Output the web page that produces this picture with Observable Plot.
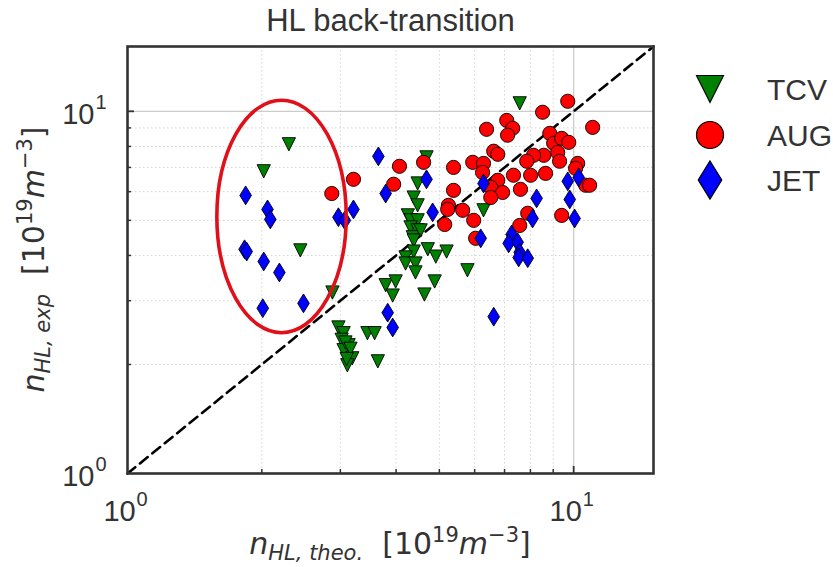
<!DOCTYPE html>
<html><head><meta charset="utf-8">
<script src="https://cdn.jsdelivr.net/npm/d3@7"></script>
<script src="https://cdn.jsdelivr.net/npm/@observablehq/plot@0.6"></script>
<style>body{margin:0;background:#fff;} #chart svg{display:block;}</style>
</head><body><div id="chart"></div>
<script>
// ---- data ----
const seriesNames = ["TCV", "AUG", "JET"];
const seriesColors = ["#008000", "#ff0000", "#0000ff"];

const tcvX = [2.30, 2.02, 2.44, 2.88, 4.68, 4.47, 4.38, 4.47, 4.25, 4.31, 4.47, 4.31, 4.47, 4.36, 4.54,
  4.38, 4.38, 4.71, 4.91, 5.19, 4.20, 4.20, 4.42, 4.42, 3.79, 3.99, 3.93, 4.88, 4.63, 5.78,
  7.57, 6.28, 2.97, 3.05, 3.02, 3.13, 3.05, 3.19, 3.11, 3.45, 3.58, 3.64, 3.08, 3.16, 3.10];
const tcvY = [8.11, 6.83, 4.13, 3.16, 7.46, 6.32, 5.78, 5.50, 5.16, 5.00, 5.00, 4.78, 4.69, 4.49, 4.69,
  4.40, 4.10, 4.16, 3.97, 4.10, 3.95, 3.80, 3.80, 3.59, 3.31, 3.39, 3.10, 3.39, 3.12, 3.64,
  10.52, 5.33, 2.53, 2.44, 2.34, 2.26, 2.19, 2.08, 1.99, 2.44, 2.44, 2.04, 2.30, 2.21, 2.07];

const augX = [2.87, 3.21, 4.07, 4.61, 5.38, 5.94, 3.95, 5.38, 5.24, 5.22, 5.14, 5.64, 5.97, 6.03,
  9.70, 8.52, 11.03, 6.38, 7.08, 7.30, 7.11, 8.84, 9.02, 9.40, 9.75, 9.21, 9.30, 8.57, 8.13, 7.85,
  8.65, 8.01, 7.33, 7.60, 10.21, 10.10, 10.64, 10.86, 9.40, 6.62, 6.76, 6.28, 6.25, 6.76, 6.52,
  6.93, 6.52, 7.89, 7.57];
const augY = [5.93, 6.49, 7.05, 7.23, 7.00, 7.23, 6.29, 6.05, 5.50, 5.36, 4.87, 5.33, 5.00, 4.46,
  10.66, 9.94, 9.03, 8.92, 9.44, 8.98, 8.59, 8.69, 8.16, 8.42, 8.21, 7.70, 7.28, 7.56, 7.56, 7.28,
  6.74, 6.66, 6.66, 6.09, 7.18, 6.96, 6.25, 6.25, 5.16, 7.76, 7.61, 7.18, 6.78, 6.45, 6.17,
  5.97, 5.78, 5.23, 4.84];

const jetX = [1.84, 2.06, 2.09, 1.83, 1.85, 2.02, 2.19, 2.01, 2.48, 2.97, 3.07, 3.21, 3.65, 3.79,
  4.68, 4.83, 6.28, 8.26, 8.09, 6.19, 7.26, 7.15, 7.49, 7.57, 7.53, 7.89, 6.62, 9.70, 10.26,
  9.80, 10.05, 3.83, 3.93];
const jetY = [5.86, 5.36, 5.03, 4.16, 4.10, 3.85, 3.59, 2.86, 2.95, 5.10, 5.00, 5.36, 7.51, 5.93,
  6.49, 5.26, 6.32, 5.75, 5.06, 4.46, 4.57, 4.32, 4.35, 4.08, 3.95, 3.93, 2.71, 6.41, 6.57,
  5.71, 5.06, 2.78, 2.53];

const axisDomain = [1, 15.1];
const majorTicks = [1, 10];
const tickExponents = ["0", "1"];
const minorTicks = [2, 3, 4, 5, 6, 7, 8, 9];
const gridMajor = [10];
const titleText = "HL back-transition";
// highlighted region (data bounds of the red ellipse)
const ellipseXRange = [1.59, 3.10];
const ellipseYRange = [2.44, 10.7];

// ---- symbols ----
const triDown = { draw(ctx, size) { const h = Math.sqrt(2 * size);
  ctx.moveTo(-h / 2, -h / 2); ctx.lineTo(h / 2, -h / 2); ctx.lineTo(0, h / 2); ctx.closePath(); } };
const thinDiamond = { draw(ctx, size) { const h = Math.sqrt(size / 0.31), w = 0.62 * h;
  ctx.moveTo(0, -h / 2); ctx.lineTo(w / 2, 0); ctx.lineTo(0, h / 2); ctx.lineTo(-w / 2, 0); ctx.closePath(); } };
const circleSym = d3.symbolCircle;
const symbols = [triDown, circleSym, thinDiamond];

const tcv = tcvX.map((x, i) => ({x, y: tcvY[i]}));
const aug = augX.map((x, i) => ({x, y: augY[i]}));
const jet = jetX.map((x, i) => ({x, y: jetY[i]}));

const W = 833, H = 567, mL = 127, mR = 180, mT = 46, mB = 94;
const fw = W - mL - mR, fh = H - mT - mB;
const txt = "#333333";

const chart = Plot.plot({
  width: W, height: H, marginLeft: mL, marginRight: mR, marginTop: mT, marginBottom: mB,
  style: {fontFamily: "'Liberation Sans', Arial, sans-serif", background: "#fff", color: txt},
  x: {type: "log", domain: axisDomain, axis: null},
  y: {type: "log", domain: axisDomain, axis: null},
  marks: [
    Plot.ruleX(minorTicks, {x: d => d, stroke: "#d4d4d4", strokeWidth: 1, strokeDasharray: "1.5,2.5"}),
    Plot.ruleY(minorTicks, {y: d => d, stroke: "#d4d4d4", strokeWidth: 1, strokeDasharray: "1.5,2.5"}),
    Plot.ruleX(gridMajor, {x: d => d, stroke: "#cccccc", strokeWidth: 1.3}),
    Plot.ruleY(gridMajor, {y: d => d, stroke: "#cccccc", strokeWidth: 1.3}),
    Plot.line([axisDomain[0], axisDomain[1]], {x: d => d, y: d => d, stroke: "#000", strokeWidth: 2.6, strokeDasharray: "10,6"}),
    Plot.dot(tcv, {x: "x", y: "y", symbol: triDown, r: 5.3, fill: seriesColors[0], stroke: "#000", strokeWidth: 0.9}),
    Plot.dot(aug, {x: "x", y: "y", symbol: "circle", r: 7.1, fill: seriesColors[1], stroke: "#000", strokeWidth: 0.9}),
    Plot.dot(jet, {x: "x", y: "y", symbol: thinDiamond, r: 5.9, fill: seriesColors[2], stroke: "#000", strokeWidth: 0.9}),
    // inward tick marks
    Plot.ruleX(minorTicks, {x: d => d, insetTop: fh - 4, stroke: txt, strokeWidth: 1.5}),
    Plot.ruleX(gridMajor, {x: d => d, insetTop: fh - 7, stroke: txt, strokeWidth: 1.8}),
    Plot.ruleY(minorTicks, {y: d => d, insetRight: fw - 4, stroke: txt, strokeWidth: 1.5}),
    Plot.ruleY(gridMajor, {y: d => d, insetRight: fw - 7, stroke: txt, strokeWidth: 1.8}),
    Plot.frame({stroke: txt, strokeWidth: 2.6}),
    // tick labels
    Plot.text(majorTicks, {x: d => d, text: () => "10", frameAnchor: "bottom", lineAnchor: "middle", dy: 38, dx: -8, fontSize: 29, fill: txt}),
    Plot.text(majorTicks, {x: d => d, text: (d, i) => tickExponents[i], frameAnchor: "bottom", lineAnchor: "middle", dy: 26, dx: 9, textAnchor: "start", fontSize: 20, fill: txt}),
    Plot.text(majorTicks, {y: d => d, text: () => "10", frameAnchor: "left", lineAnchor: "middle", dx: -33, dy: 3, textAnchor: "end", fontSize: 29, fill: txt}),
    Plot.text(majorTicks, {y: d => d, text: (d, i) => tickExponents[i], frameAnchor: "left", lineAnchor: "middle", dx: -32, dy: -9, textAnchor: "start", fontSize: 20, fill: txt}),
    Plot.text([titleText], {text: d => d, frameAnchor: "top", lineAnchor: "middle", dy: -25, fontSize: 31, fill: txt})
  ]
});
document.getElementById("chart").appendChild(chart);

// ---- annotations, axis labels, legend ----
const svg = d3.select(chart);
const sx = chart.scale("x"), sy = chart.scale("y");
const ex0 = sx.apply(ellipseXRange[0]), ex1 = sx.apply(ellipseXRange[1]);
const ey0 = sy.apply(ellipseYRange[0]), ey1 = sy.apply(ellipseYRange[1]);
svg.append("ellipse")
  .attr("cx", (ex0 + ex1) / 2).attr("cy", (ey0 + ey1) / 2)
  .attr("rx", Math.abs(ex1 - ex0) / 2).attr("ry", Math.abs(ey1 - ey0) / 2)
  .attr("fill", "none").attr("stroke", "#e0101a").attr("stroke-width", 3.6);

function mathLabel(g, sub) {
  const t = g.append("text").attr("text-anchor", "middle").attr("fill", txt)
    .style("font-family", "'DejaVu Sans', sans-serif").style("font-size", "30px").style("white-space", "pre");
  t.append("tspan").style("font-style", "italic").text("n");
  t.append("tspan").style("font-style", "italic").style("font-size", "21px").attr("dy", 6).text(sub);
  t.append("tspan").attr("dy", -6).text("  [10");
  t.append("tspan").style("font-size", "21px").attr("dy", -12).text("19");
  t.append("tspan").style("font-style", "italic").attr("dy", 12).text("m");
  t.append("tspan").style("font-size", "21px").attr("dy", -12).text("\u22123");
  t.append("tspan").attr("dy", 12).text("]");
  return t;
}
mathLabel(svg.append("g").attr("transform", `translate(${mL + fw / 2},554)`), "HL, theo.");
mathLabel(svg.append("g").attr("transform", `translate(44,${mT + fh / 2}) rotate(-90)`), "HL, exp");

const legendRows = [89, 135, 180];
const legendSizes = [364, 573, 448];
seriesNames.forEach((name, i) => {
  svg.append("path")
    .attr("d", d3.symbol(symbols[i], legendSizes[i])())
    .attr("transform", `translate(710,${legendRows[i]})`)
    .attr("fill", seriesColors[i]).attr("stroke", "#000").attr("stroke-width", 1.2);
  svg.append("text").attr("x", 767).attr("y", legendRows[i]).attr("dy", "0.35em")
    .attr("text-anchor", "start")
    .attr("fill", txt).style("font-family", "'Liberation Sans', Arial, sans-serif").style("font-size", "30px")
    .text(name);
});
</script>
</body></html>
